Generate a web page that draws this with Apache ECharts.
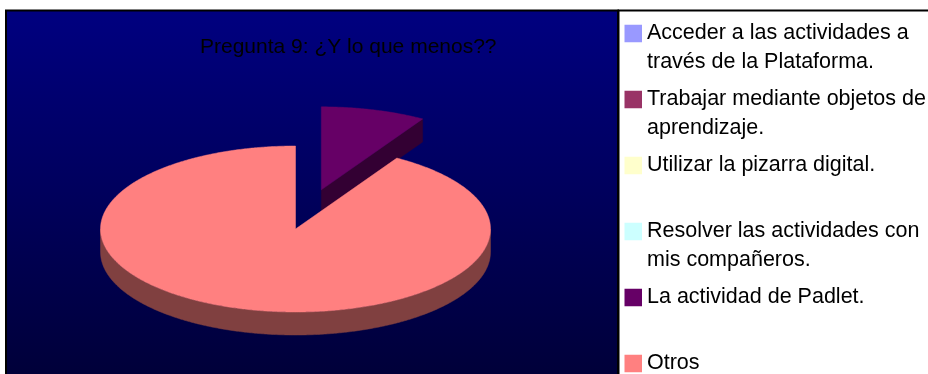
<!DOCTYPE html>
<html>
<head>
<meta charset="utf-8">
<script src="https://cdn.jsdelivr.net/npm/echarts@6/dist/echarts.min.js"></script>
<style>
  html, body { margin: 0; padding: 0; background: #ffffff; }
  #chart { width: 928px; height: 374px; }
</style>
</head>
<body>
<div id="chart"></div>
<script>
// Answers to question 9 (share of responses per option)
const categories = [
  'Acceder a las actividades a\ntravés de la Plataforma.',
  'Trabajar mediante objetos de\naprendizaje.',
  'Utilizar la pizarra digital.',
  'Resolver las actividades con\nmis compañeros.',
  'La actividad de Padlet.',
  'Otros'
];
const values = [0, 0, 0, 0, 8.7, 91.3];
const sliceColors = ['#9999FF', '#993366', '#FFFFCC', '#CCFFFF', '#660066', '#FF8080'];
const explodeRatio = [0, 0, 0, 0, 0.49, 0];
const titleText = 'Pregunta 9: ¿Y lo que menos??';

// Tilted pie geometry (pixels): ellipse centre, radii and wall height
const pie = { cx: 295.5, cy: 229, rx: 195, ry: 83, depth: 23 };

const total = values.reduce((a, b) => a + b, 0);
const startAngles = [];
(function () {
  let acc = 0;
  values.forEach(v => { startAngles.push(acc / total * Math.PI * 2); acc += v; });
})();

function shade(hex, k) {
  const h = hex.replace('#', '');
  const r = Math.round(parseInt(h.substr(0, 2), 16) * k);
  const g = Math.round(parseInt(h.substr(2, 2), 16) * k);
  const b = Math.round(parseInt(h.substr(4, 2), 16) * k);
  return 'rgb(' + r + ',' + g + ',' + b + ')';
}

// Draws one slice of the tilted pie: visible outer wall, visible cut faces, then the top face.
// Angles run clockwise from 12 o'clock.
function renderSlice(i) {
  return function (params, api) {
    const v = api.value(0);
    if (!(v > 0)) return;
    const a0 = startAngles[i];
    const a1 = a0 + v / total * Math.PI * 2;
    const mid = (a0 + a1) / 2;
    const off = explodeRatio[i];
    const cx = pie.cx + off * pie.rx * Math.sin(mid);
    const cy = pie.cy - off * pie.ry * Math.cos(mid);
    const pt = (a, d) => [cx + pie.rx * Math.sin(a), cy - pie.ry * Math.cos(a) + (d || 0)];
    const arc = (s, e, d) => {
      const n = Math.max(2, Math.ceil((e - s) / (Math.PI / 360)));
      const out = [];
      for (let k = 0; k <= n; k++) out.push(pt(s + (e - s) * k / n, d));
      return out;
    };
    const topColor = api.visual('color');
    const sideColor = shade(sliceColors[i], 0.5);
    const children = [];

    const fs = Math.max(a0, Math.PI / 2);
    const fe = Math.min(a1, Math.PI * 1.5);
    if (fe > fs) {
      const upper = arc(fs, fe, 0);
      const lower = arc(fs, fe, pie.depth).reverse();
      children.push({
        type: 'polygon', z2: 1,
        shape: { points: upper.concat(lower) },
        style: { fill: sideColor, stroke: sideColor, lineWidth: 0.5 }
      });
    }
    const face = a => ({
      type: 'polygon', z2: 1,
      shape: { points: [[cx, cy], [cx, cy + pie.depth], pt(a, pie.depth), pt(a, 0)] },
      style: { fill: sideColor, stroke: sideColor, lineWidth: 0.5 }
    });
    if (Math.sin(a1) > 1e-6) children.push(face(a1));
    if (Math.sin(a0) < -1e-6) children.push(face(a0));

    children.push({
      type: 'polygon', z2: 2,
      shape: { points: [[cx, cy]].concat(arc(a0, a1, 0)) },
      style: { fill: topColor, stroke: topColor, lineWidth: 0.5 }
    });
    return { type: 'group', children: children };
  };
}

const chart = echarts.init(document.getElementById('chart'), null, { renderer: 'canvas' });

const series = categories.map((name, i) => ({
  type: 'custom',
  name: name,
  coordinateSystem: 'none',
  renderItem: renderSlice(i),
  itemStyle: { color: sliceColors[i], borderWidth: 0 },
  data: [values[i]],
  silent: true
}));

chart.setOption({
  animation: false,
  backgroundColor: '#ffffff',
  graphic: [
    {
      type: 'rect', z: 0,
      shape: { x: 6, y: 10.5, width: 612, height: 380 },
      style: {
        fill: new echarts.graphic.LinearGradient(0, 0, 0, 1, [
          { offset: 0, color: '#000080' },
          { offset: 1, color: '#000036' }
        ]),
        stroke: '#000000',
        lineWidth: 2
      }
    },
    {
      type: 'rect', z: 0,
      shape: { x: 618.5, y: 10.5, width: 330, height: 380 },
      style: { fill: '#ffffff', stroke: '#000000', lineWidth: 2 }
    }
  ],
  title: {
    text: titleText,
    left: 200,
    top: 35,
    padding: 0,
    textStyle: {
      fontFamily: 'Liberation Sans, Arial, sans-serif',
      fontSize: 21,
      fontWeight: 'normal',
      color: '#000000',
      lineHeight: 24
    }
  },
  legend: {
    orient: 'vertical',
    left: 624.5,
    top: 19,
    height: 420,
    padding: 0,
    itemWidth: 17.5,
    itemHeight: 58,
    itemGap: 8,
    selectedMode: false,
    icon: 'path://M0,5.75H17.5V23.25H0Z M0,0H0.01V0.01H0Z M0,57.99H0.01V58H0Z',
    itemStyle: { borderWidth: 0, borderColor: 'rgba(0,0,0,0)' },
    formatter: name => (name.indexOf('\n') >= 0 ? name : name + '\n '),
    textStyle: {
      fontFamily: 'Liberation Sans, Arial, sans-serif',
      fontSize: 21.5,
      lineHeight: 29,
      color: '#000000'
    },
    data: categories
  },
  series: series
});
</script>
</body>
</html>
